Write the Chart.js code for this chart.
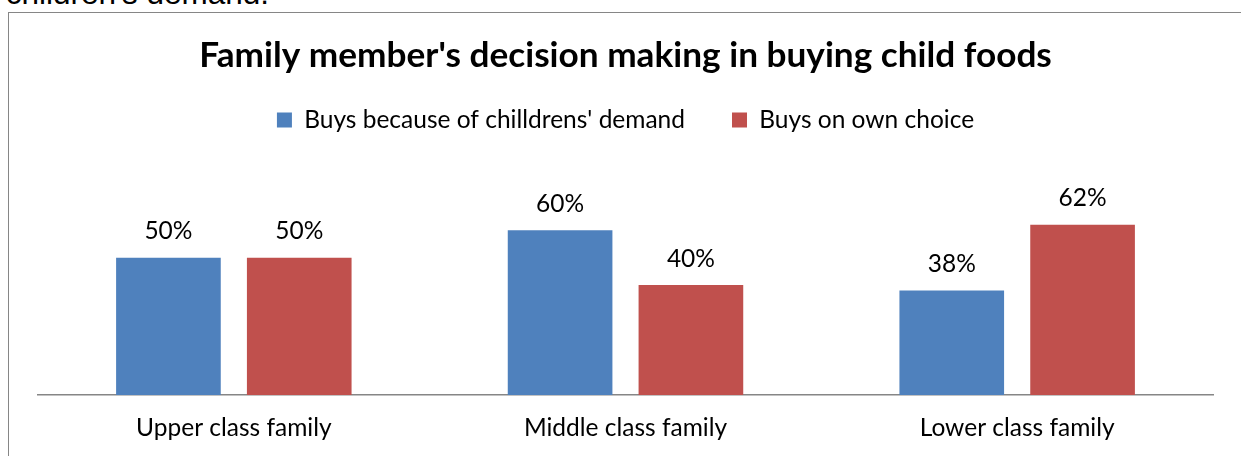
<!DOCTYPE html>
<html>
<head>
<meta charset="utf-8">
<title>Family member's decision making in buying child foods</title>
<script src="https://cdn.jsdelivr.net/npm/chart.js@4.4.1/dist/chart.umd.min.js"></script>
<style>
  html, body { margin: 0; padding: 0; background: #fff; overflow: hidden; }
  body { width: 1241px; height: 456px; position: relative; }
  .doc-line {
    position: absolute; left: 5.7px; top: -21.7px;
    font: 31.5px/1 "Liberation Sans", Arial, sans-serif; color: #000; white-space: nowrap;
  }
  .frame {
    position: absolute; left: 8px; top: 12px; width: 1400px; height: 600px;
    border: 1px solid #868686; box-sizing: border-box;
  }
  #chart { position: absolute; left: 0; top: 0; }
</style>
</head>
<body>
<div class="doc-line">children's demand.</div>
<div class="frame"></div>
<canvas id="chart" width="1241" height="480"></canvas>
<script>
// Share of families (%) by how the child food purchase is decided
const categories = ['Upper class family', 'Middle class family', 'Lower class family'];
const seriesNames = ["Buys because of chilldrens' demand", 'Buys on own choice'];
const demandShare = [50, 60, 38];
const ownChoiceShare = [50, 40, 62];
const chartTitle = "Family member's decision making in buying child foods";

const FONT = 'Lato, "Open Sans", sans-serif';
const TEXT_SIZE = 24.5;

// Percent labels written above each bar
const valueLabels = {
  id: 'valueLabels',
  afterDatasetsDraw(chart) {
    const ctx = chart.ctx;
    ctx.save();
    ctx.font = TEXT_SIZE + 'px ' + FONT;
    ctx.fillStyle = '#000';
    ctx.textAlign = 'center';
    ctx.textBaseline = 'alphabetic';
    chart.data.datasets.forEach((ds, i) => {
      chart.getDatasetMeta(i).data.forEach((bar, j) => {
        ctx.fillText(ds.data[j] + '%', bar.x, bar.y - 18.5);
      });
    });
    ctx.restore();
  }
};

new Chart(document.getElementById('chart'), {
  type: 'bar',
  data: {
    labels: categories,
    datasets: [
      { label: seriesNames[0], data: demandShare, backgroundColor: '#4f81bd', borderWidth: 0 },
      { label: seriesNames[1], data: ownChoiceShare, backgroundColor: '#c0504d', borderWidth: 0 }
    ]
  },
  options: {
    responsive: false,
    animation: false,
    events: [],
    categoryPercentage: 0.668,
    barPercentage: 0.8,
    layout: { padding: { left: 38, right: 28, top: 0, bottom: 19 } },
    plugins: {
      title: {
        display: true,
        text: chartTitle,
        color: '#000',
        font: { family: FONT, weight: 'bold', size: 35.2, lineHeight: 0.25 },
        padding: { top: 51.5, bottom: 0.45 }
      },
      legend: {
        position: 'top',
        labels: {
          color: '#000',
          font: { family: FONT, size: TEXT_SIZE },
          boxWidth: 15,
          boxHeight: 15,
          padding: 47
        }
      },
      tooltip: { enabled: false }
    },
    scales: {
      x: {
        grid: { display: false, drawTicks: false },
        border: { display: true, color: '#868686', width: 1.5 },
        ticks: { color: '#000', font: { family: FONT, size: TEXT_SIZE }, padding: 18.3 }
      },
      y: { display: false, min: 0, max: 92 }
    }
  },
  plugins: [valueLabels]
});
</script>
</body>
</html>
